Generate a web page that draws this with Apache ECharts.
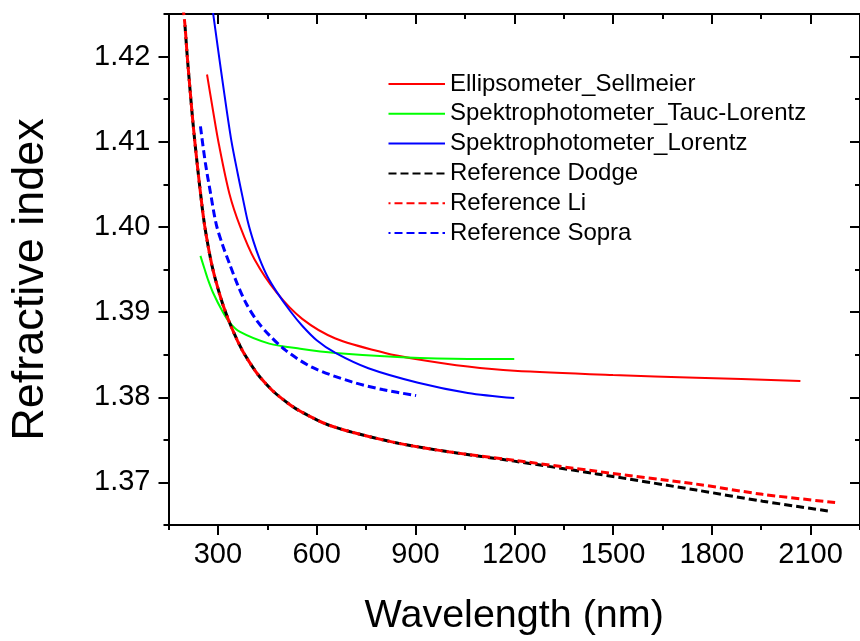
<!DOCTYPE html>
<html>
<head>
<meta charset="utf-8">
<script src="https://cdn.jsdelivr.net/npm/echarts@6/dist/echarts.min.js"></script>
<style>
  html, body { margin: 0; padding: 0; background: #ffffff; }
  #chart { width: 860px; height: 641px; }
</style>
</head>
<body>
<div id="chart"></div>
<script>
// Axis ticks (major ones carry labels)
const xMajorTicks = [300, 600, 900, 1200, 1500, 1800, 2100];
const xMinorTicks = [150, 450, 750, 1050, 1350, 1650, 1950, 2250];
const yMajorTicks = [1.37, 1.38, 1.39, 1.40, 1.41, 1.42];
const yMinorTicks = [1.365, 1.375, 1.385, 1.395, 1.405, 1.415, 1.425];

// Refractive index vs wavelength (nm)
const ellipsometerSellmeier = [
  [267, 1.4179], [285, 1.4137], [303, 1.4097], [335, 1.4039], [368, 1.4000],
  [411, 1.3962], [478, 1.3923], [556, 1.3892], [657, 1.3869], [808, 1.3852],
  [900, 1.3845], [1059, 1.3836], [1200, 1.3831], [1500, 1.3826], [1753, 1.3823],
  [2069, 1.3819]
];
const spektroTaucLorentz = [
  [247, 1.3966], [260, 1.3950], [270, 1.3938], [285, 1.3923], [315, 1.3900],
  [335, 1.3888], [366, 1.3877], [456, 1.3863], [550, 1.3857], [657, 1.3852],
  [858, 1.3847], [1059, 1.3845], [1200, 1.3845]
];
const spektroLorentz = [
  [283, 1.4258], [300, 1.4210], [320, 1.4155], [341, 1.4101], [360, 1.4063],
  [375, 1.4035], [391, 1.4006], [408, 1.3983], [426, 1.3963], [450, 1.3942],
  [478, 1.3924], [520, 1.3901], [556, 1.3884], [600, 1.3867], [657, 1.3852],
  [757, 1.3834], [908, 1.3817], [1059, 1.3805], [1200, 1.3799]
];
const referenceDodge = [
  [200, 1.4237], [207, 1.4200], [215, 1.4163], [222, 1.4132], [230, 1.4100],
  [245, 1.4047], [260, 1.4001], [283, 1.3953], [310, 1.3915], [335, 1.3888],
  [360, 1.3866], [380, 1.3851], [421, 1.3827], [460, 1.3810], [486, 1.3801],
  [531, 1.3788], [587, 1.3776], [632, 1.3768], [707, 1.3759], [848, 1.3746],
  [1000, 1.3736], [1200, 1.3725], [1451, 1.3710], [1753, 1.3691], [1954, 1.3678],
  [2162, 1.3666]
];
const referenceLi = [
  [192, 1.4265], [200, 1.4237], [207, 1.4200], [215, 1.4163], [222, 1.4132],
  [230, 1.4100], [245, 1.4047], [260, 1.4001], [283, 1.3953], [310, 1.3915],
  [335, 1.3888], [360, 1.3866], [380, 1.3851], [421, 1.3827], [460, 1.3810],
  [486, 1.3801], [531, 1.3788], [587, 1.3776], [632, 1.3768], [707, 1.3759],
  [848, 1.3746], [1000, 1.3736], [1200, 1.3726], [1451, 1.3713], [1753, 1.3698],
  [1954, 1.3686], [2184, 1.3676]
];
const referenceSopra = [
  [247, 1.4118], [262, 1.4075], [278, 1.4039], [295, 1.4003], [315, 1.3978],
  [335, 1.3957], [360, 1.3932], [386, 1.3910], [420, 1.3889], [456, 1.3873],
  [506, 1.3855], [587, 1.3835], [707, 1.3818], [800, 1.3809], [902, 1.3802]
];

const FONT = '"Liberation Sans", Arial, sans-serif';
const AXIS_COLOR = '#000000';

function tickAxis(opts) {
  return Object.assign({
    type: 'value',
    gridIndex: 0,
    splitLine: { show: false },
    axisLine: { show: false, onZero: false },
    axisLabel: { show: false },
    axisTick: { show: true, lineStyle: { color: AXIS_COLOR, width: 2 } }
  }, opts);
}

const xRange = { min: 150, max: 2250 };
const yRange = { min: 1.365, max: 1.425 };

const xAxes = [
  tickAxis(Object.assign({}, xRange, {
    position: 'bottom',
    axisLine: { show: true, onZero: false, lineStyle: { color: AXIS_COLOR, width: 2 } },
    axisTick: { show: true, customValues: xMajorTicks, length: 10, lineStyle: { color: AXIS_COLOR, width: 2 } },
    axisLabel: {
      show: true, customValues: xMajorTicks, color: '#000', fontSize: 29, fontFamily: FONT, margin: 15,
      formatter: v => String(Math.round(v))
    },
    name: 'Wavelength (nm)',
    nameLocation: 'middle',
    nameGap: 71,
    nameTextStyle: { color: '#000', fontSize: 39.5, fontFamily: FONT }
  })),
  tickAxis(Object.assign({}, xRange, {
    position: 'bottom',
    axisTick: { show: true, customValues: xMinorTicks, length: 5, lineStyle: { color: AXIS_COLOR, width: 2 } }
  })),
  tickAxis(Object.assign({}, xRange, {
    position: 'top',
    axisLine: { show: true, onZero: false, lineStyle: { color: AXIS_COLOR, width: 2 } },
    axisTick: { show: true, inside: true, customValues: xMajorTicks, length: 10, lineStyle: { color: AXIS_COLOR, width: 2 } }
  })),
  tickAxis(Object.assign({}, xRange, {
    position: 'top',
    axisTick: { show: true, inside: true, customValues: xMinorTicks, length: 5, lineStyle: { color: AXIS_COLOR, width: 2 } }
  }))
];

const yAxes = [
  tickAxis(Object.assign({}, yRange, {
    position: 'left',
    axisLine: { show: true, onZero: false, lineStyle: { color: AXIS_COLOR, width: 2 } },
    axisTick: { show: true, customValues: yMajorTicks, length: 10, lineStyle: { color: AXIS_COLOR, width: 2 } },
    axisLabel: {
      show: true, customValues: yMajorTicks, color: '#000', fontSize: 29, fontFamily: FONT, margin: 18,
      formatter: v => Number(v).toFixed(2)
    },
    name: 'Refractive index',
    nameLocation: 'middle',
    nameGap: 115,
    nameTextStyle: { color: '#000', fontSize: 45, fontFamily: FONT, padding: [0, 20, 0, 0] }
  })),
  tickAxis(Object.assign({}, yRange, {
    position: 'left',
    axisTick: { show: true, customValues: yMinorTicks, length: 5, lineStyle: { color: AXIS_COLOR, width: 2 } }
  })),
  tickAxis(Object.assign({}, yRange, {
    position: 'right',
    axisLine: { show: true, onZero: false, lineStyle: { color: AXIS_COLOR, width: 2 } },
    axisTick: { show: true, inside: true, customValues: yMajorTicks, length: 10, lineStyle: { color: AXIS_COLOR, width: 2 } }
  })),
  tickAxis(Object.assign({}, yRange, {
    position: 'right',
    axisTick: { show: true, inside: true, customValues: yMinorTicks, length: 5, lineStyle: { color: AXIS_COLOR, width: 2 } }
  }))
];

function curve(name, data, color, dashed, extra) {
  return Object.assign({
    name: name,
    type: 'line',
    data: data,
    xAxisIndex: 0,
    yAxisIndex: 0,
    showSymbol: false,
    symbol: 'none',
    smooth: 0.3,
    clip: true,
    silent: true,
    lineStyle: dashed
      ? { color: color, width: 3, type: [8, 4] }
      : { color: color, width: 2, type: 'solid' },
    itemStyle: { color: color }
  }, extra || {});
}

const series = [
  curve('Ellipsometer_Sellmeier', ellipsometerSellmeier, '#ff0000', false),
  curve('Spektrophotometer_Tauc-Lorentz', spektroTaucLorentz, '#00ff00', false),
  curve('Spektrophotometer_Lorentz', spektroLorentz, '#0000ff', false),
  curve('Reference Dodge', referenceDodge, '#000000', true),
  curve('Reference Li', referenceLi, '#ff0000', true, {
    lineStyle: { color: '#ff0000', width: 3, type: [8, 4], dashOffset: 6 }
  }),
  curve('Reference Sopra', referenceSopra, '#0000ff', true)
];

const chart = echarts.init(document.getElementById('chart'), null, { renderer: 'canvas' });
chart.setOption({
  backgroundColor: '#ffffff',
  animation: false,
  grid: { left: 168.5, top: 14, right: -5, bottom: 108, containLabel: false },
  xAxis: xAxes,
  yAxis: yAxes,
  legend: {
    show: true,
    orient: 'vertical',
    left: 387.5,
    top: 72,
    padding: 0,
    itemWidth: 56.5,
    itemHeight: 14,
    itemGap: 5.8,
    selectedMode: false,
    itemStyle: { opacity: 0 },
    textStyle: { color: '#000', fontSize: 24, fontFamily: FONT },
    data: series.map(s => s.name)
  },
  series: series
});
</script>
</body>
</html>
